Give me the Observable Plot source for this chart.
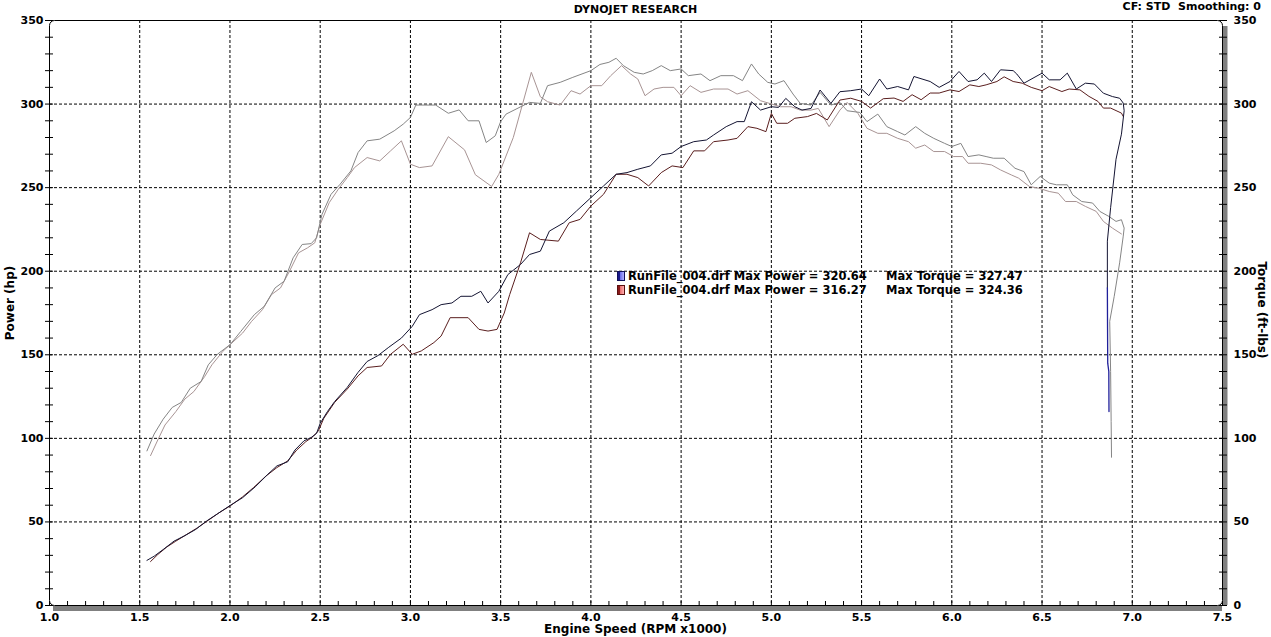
<!DOCTYPE html>
<html><head><meta charset="utf-8">
<script src="https://cdn.jsdelivr.net/npm/d3@7"></script>
<script src="https://cdn.jsdelivr.net/npm/@observablehq/plot@0.6"></script>
<style>
body{margin:0;background:#fff;font-family:"DejaVu Sans",Verdana,sans-serif;}
#wrap{position:relative;width:1271px;height:637px;overflow:hidden;background:#fff;}
#chart{position:absolute;left:0;top:18px;}
.t{position:absolute;font-weight:bold;color:#000;white-space:nowrap;line-height:1;}
.rot{transform:translate(-50%,-50%) rotate(-90deg);}
.rotr{transform:translate(-50%,-50%) rotate(90deg);}
.sw{position:absolute;width:8px;height:10px;box-sizing:border-box;}
</style></head><body><div id="wrap">
<div class="t" style="left:0;width:1271px;text-align:center;top:4px;font-size:11px;">DYNOJET RESEARCH</div>
<div class="t" style="right:10px;top:1px;font-size:11px;">CF: STD&nbsp; Smoothing: 0</div>
<div class="t" style="left:0;width:1271px;text-align:center;top:623px;font-size:12px;">Engine Speed (RPM x1000)</div>
<div class="t rot" style="left:10px;top:303px;font-size:12px;">Power (hp)</div>
<div class="t rotr" style="left:1262px;top:310px;font-size:12px;">Torque (ft-lbs)</div>
<div id="chart"></div>
<div id="legend"></div>
</div>
<script>
// ---- data: [rpm x1000, value] ----
const run1Power = [[1.54,27],[1.58,29.5],[1.63,33.5],[1.69,38.5],[1.75,41.8],[1.81,45.5],[1.87,50.5],[1.93,54.8],[2.0,59.8],[2.07,64.5],[2.14,71],[2.21,78.5],[2.26,83.5],[2.32,86],[2.36,93],[2.41,98.5],[2.45,100.5],[2.48,103],[2.5,109],[2.54,116],[2.58,122],[2.65,130.5],[2.71,139.5],[2.76,146],[2.82,149.5],[2.88,154.5],[2.95,160],[3.01,167],[3.05,174],[3.12,177],[3.17,180],[3.23,181],[3.28,185],[3.34,185],[3.39,188],[3.43,181],[3.49,188],[3.54,198],[3.61,204],[3.66,210],[3.72,212],[3.77,224],[3.85,229],[3.92,236],[4.0,244],[4.07,251],[4.14,258],[4.2,259],[4.26,261],[4.33,263],[4.39,269.6],[4.45,270.6],[4.5,274.6],[4.57,277.5],[4.64,278.5],[4.68,281.5],[4.75,286.5],[4.81,289.5],[4.85,289.5],[4.89,301.4],[4.94,296.4],[5.0,298.4],[5.04,298],[5.08,303.4],[5.13,298.4],[5.17,296.4],[5.22,297.4],[5.27,308.4],[5.33,300.4],[5.38,307.4],[5.44,308],[5.5,309],[5.54,305],[5.6,315],[5.64,309],[5.7,310.5],[5.76,308.5],[5.79,316.5],[5.88,313.5],[5.93,310],[5.99,313.5],[6.04,319.5],[6.09,313.5],[6.14,314.5],[6.18,318.5],[6.22,313.5],[6.27,320.5],[6.34,320],[6.36,318],[6.4,312.5],[6.45,315.5],[6.5,318.5],[6.54,314.5],[6.6,314.5],[6.64,318.5],[6.69,309],[6.74,312.5],[6.79,312],[6.84,306.5],[6.89,304.5],[6.93,303.5],[6.95,300.6],[6.955,296],[6.94,282],[6.91,267],[6.88,238],[6.862,218],[6.862,190]];
const run1PowerTail = [[6.862,190],[6.863,166],[6.864,145],[6.87,140],[6.871,116]];
const run2Power = [[1.56,26.3],[1.6,30.5],[1.65,35],[1.7,38.5],[1.76,42.5],[1.82,46.5],[1.88,51],[1.94,55.5],[2.0,59.5],[2.07,65],[2.13,70.5],[2.2,77.5],[2.26,82.5],[2.32,86.5],[2.37,93],[2.42,98],[2.46,101],[2.49,104.5],[2.52,112],[2.58,121.5],[2.65,129.5],[2.71,137.4],[2.76,142.4],[2.84,143.3],[2.89,150.3],[2.96,156.3],[3.01,150.3],[3.06,152.3],[3.13,157.3],[3.17,161.2],[3.22,172.2],[3.32,172.2],[3.38,165.2],[3.43,164.2],[3.48,165.2],[3.52,175],[3.55,186],[3.61,205],[3.66,223],[3.72,219],[3.82,218],[3.88,229],[3.94,231],[4.0,239],[4.07,246],[4.14,258],[4.2,258],[4.26,256],[4.32,251],[4.39,259],[4.45,263],[4.51,262],[4.57,272],[4.63,272],[4.68,277.5],[4.76,278.5],[4.81,279.5],[4.87,286.5],[4.92,285.5],[4.97,283.5],[5.0,294.4],[5.03,288.5],[5.09,288.5],[5.13,291.5],[5.2,292.5],[5.25,294.4],[5.31,290.5],[5.38,302.4],[5.44,303.5],[5.5,301.6],[5.55,297.6],[5.62,303.2],[5.68,303.6],[5.73,301.6],[5.78,305.6],[5.83,302.6],[5.88,306.6],[5.93,306.6],[5.99,308.5],[6.04,307.5],[6.1,311.5],[6.15,310.5],[6.19,311.5],[6.25,313.5],[6.29,316.3],[6.34,313.5],[6.39,312.5],[6.44,310],[6.5,308],[6.54,310.5],[6.61,307.5],[6.65,309],[6.71,308.5],[6.76,304.6],[6.81,301.6],[6.84,297.6],[6.88,297.6],[6.94,294.6],[6.95,292.6]];
const run1Torque = [[1.54,92.5],[1.58,102.6],[1.63,111.5],[1.68,118.5],[1.73,121.5],[1.78,130],[1.84,134],[1.88,144],[1.93,150.3],[2.0,156],[2.06,164],[2.135,174],[2.19,179],[2.25,190],[2.3,194],[2.35,208],[2.4,216],[2.45,216.5],[2.48,220],[2.51,234],[2.56,246],[2.61,252],[2.67,260],[2.71,271],[2.76,278],[2.83,279],[2.91,284],[2.96,288],[3.0,292],[3.03,299.4],[3.14,299.4],[3.21,294.5],[3.27,296.5],[3.32,290],[3.38,290],[3.42,277],[3.47,281],[3.5,289.5],[3.53,294],[3.63,299.4],[3.66,301],[3.72,300.4],[3.76,311],[3.83,313],[3.9,316],[4.0,320],[4.05,323.7],[4.1,325],[4.14,327.4],[4.18,323],[4.24,319],[4.29,318],[4.34,320],[4.39,323],[4.44,320],[4.5,321],[4.54,317],[4.61,318],[4.66,314],[4.72,317],[4.79,317],[4.84,314],[4.89,324],[4.93,318],[4.98,313],[5.02,312],[5.07,314],[5.12,306],[5.16,300.4],[5.22,299.4],[5.27,307],[5.33,299.4],[5.38,301],[5.42,296],[5.49,295],[5.53,289.5],[5.59,294],[5.64,286.5],[5.7,283.5],[5.74,281.5],[5.8,286.5],[5.85,282.5],[5.9,279.5],[5.96,276.5],[6.0,274.6],[6.05,276.5],[6.09,268.6],[6.15,269.6],[6.19,268.6],[6.23,267.6],[6.29,267.6],[6.35,261.6],[6.4,259.6],[6.44,251.7],[6.49,256.7],[6.54,252.7],[6.58,251.7],[6.64,251.7],[6.67,245.7],[6.72,241.7],[6.78,240.8],[6.82,235.8],[6.87,232.8],[6.91,229.8],[6.94,230.8],[6.955,225.8],[6.95,221],[6.93,205],[6.9,185],[6.875,170],[6.88,140],[6.883,110],[6.885,88.7]];
const run2Torque = [[1.56,89.7],[1.6,99],[1.64,108],[1.7,116],[1.75,123.5],[1.8,128],[1.86,137],[1.9,144],[1.96,152],[2.01,157],[2.07,163],[2.12,170],[2.18,177],[2.23,186],[2.28,190],[2.33,200],[2.38,211],[2.43,214],[2.47,217],[2.5,228],[2.55,241],[2.6,249],[2.65,256],[2.69,262],[2.76,268],[2.83,266],[2.89,272],[2.95,278],[3.0,264],[3.05,262],[3.12,263],[3.21,280.5],[3.3,272.6],[3.36,257.7],[3.45,250.7],[3.49,258],[3.57,280],[3.67,319],[3.72,304.4],[3.76,301.4],[3.83,299.4],[3.89,308],[3.94,306],[4.0,311],[4.06,311],[4.11,317],[4.17,323],[4.22,318],[4.26,315],[4.3,305],[4.35,309],[4.4,310],[4.46,310],[4.5,305],[4.55,311],[4.61,307],[4.68,309],[4.76,309],[4.81,306],[4.87,308],[4.94,302],[4.99,300.4],[5.05,298.4],[5.11,298.4],[5.16,296.4],[5.22,296.4],[5.26,297.4],[5.32,286.5],[5.38,296.4],[5.42,301],[5.48,294.4],[5.53,285.5],[5.59,282.5],[5.64,282.5],[5.7,279.5],[5.76,277.5],[5.8,273.6],[5.85,275.5],[5.9,271.6],[5.96,271.6],[6.01,268.6],[6.06,268.6],[6.09,264.6],[6.16,264.6],[6.22,263.6],[6.27,260.6],[6.33,257.6],[6.37,255.7],[6.43,250.7],[6.48,249.7],[6.54,247.7],[6.59,246.7],[6.63,241.7],[6.69,241.7],[6.74,238.8],[6.8,235.8],[6.84,229.8],[6.89,225.8],[6.94,222.3]];

// tick values
const xMajorTicks = [1.0,1.5,2.0,2.5,3.0,3.5,4.0,4.5,5.0,5.5,6.0,6.5,7.0,7.5];
const xGridTicks = [1.5,2.0,2.5,3.0,3.5,4.0,4.5,5.0,5.5,6.0,6.5,7.0];
const yMajorTicks = [0,50,100,150,200,250,300,350];
const yGridTicks = [50,100,150,200,250,300];
const xMinorTicks = d3.range(10,76).map(d => d/10);
const yMinorTicks = d3.range(0,351,10);

// legend
const legendRuns = ["RunFile_004.drf","RunFile_004.drf"];
const legendMaxPower = ["320.64","316.27"];
const legendMaxTorque = ["327.47","324.36"];
const legendSwatch = ["linear-gradient(90deg,#1a1a8a 0 2px,#6a6ae8 2px,#b0b0ff)","linear-gradient(90deg,#8a1a1a 0 2px,#e86a6a 2px,#ffb0b0)"];
const legendBorder = ["#10105a","#5a1010"];

const chart = Plot.plot({
  width: 1271, height: 619,
  marginTop: 2, marginBottom: 32, marginLeft: 49, marginRight: 49,
  x: {domain: [1, 7.5]},
  y: {domain: [0, 350]},
  style: {fontFamily: "'DejaVu Sans', Verdana, sans-serif", fontSize: "11px", fontWeight: "bold", color: "#000", background: "transparent", overflow: "visible"},
  marks: [
    Plot.gridX(xGridTicks, {stroke: "#000", strokeOpacity: 1, strokeDasharray: "3,2"}),
    Plot.gridY(yGridTicks, {stroke: "#000", strokeOpacity: 1, strokeDasharray: "3,2"}),
    Plot.ruleX([7.5], {stroke: "#808080", strokeWidth: 5, dx: 2.5, insetTop: 6}),
    Plot.ruleY([0], {stroke: "#808080", strokeWidth: 5, dy: 3, insetLeft: 4}),
    Plot.frame({stroke: "#000", rx: 5}),
    Plot.axisY(yMinorTicks, {anchor: "left", tickSize: 8, dx: 4, tickFormat: () => "", label: null}),
    Plot.axisY(yMajorTicks, {anchor: "left", tickSize: 0, tickPadding: 6, label: null}),
    Plot.axisY(yMinorTicks, {anchor: "right", tickSize: 8, dx: -4, tickFormat: () => "", label: null}),
    Plot.axisY(yMajorTicks, {anchor: "right", tickSize: 0, tickPadding: 11, label: null}),
    Plot.axisX(xMinorTicks, {anchor: "bottom", tickSize: 4, dy: -4, tickFormat: () => "", label: null}),
    Plot.axisX(xMajorTicks, {anchor: "bottom", tickSize: 0, tickPadding: 8, tickFormat: d => d.toFixed(1), label: null}),
    Plot.line(run2Torque, {x: d => d[0], y: d => d[1], stroke: "#a89494", strokeWidth: 1}),
    Plot.line(run1Torque, {x: d => d[0], y: d => d[1], stroke: "#858585", strokeWidth: 1}),
    Plot.line(run2Power, {x: d => d[0], y: d => d[1], stroke: "#5a1e1e", strokeWidth: 1}),
    Plot.line(run1Power, {x: d => d[0], y: d => d[1], stroke: "#141432", strokeWidth: 1}),
    Plot.line(run1PowerTail, {x: d => d[0], y: d => d[1], stroke: "#20209a", strokeWidth: 1.3})
  ]
});
document.getElementById("chart").appendChild(chart);

const leg = document.getElementById("legend");
legendRuns.forEach((name, i) => {
  const top = 271 + i * 14;
  const sw = document.createElement("div");
  sw.className = "sw";
  sw.style.left = "617px"; sw.style.top = top + "px";
  sw.style.background = legendSwatch[i];
  sw.style.border = "1px solid " + legendBorder[i];
  leg.appendChild(sw);
  const t1 = document.createElement("div");
  t1.className = "t"; t1.style.fontSize = "11.5px";
  t1.style.left = "628px"; t1.style.top = (top) + "px";
  t1.textContent = `${name} Max Power = ${legendMaxPower[i]}`;
  leg.appendChild(t1);
  const t2 = document.createElement("div");
  t2.className = "t"; t2.style.fontSize = "11.5px";
  t2.style.left = "886px"; t2.style.top = (top) + "px";
  t2.textContent = `Max Torque = ${legendMaxTorque[i]}`;
  leg.appendChild(t2);
});
</script>
</body></html>
